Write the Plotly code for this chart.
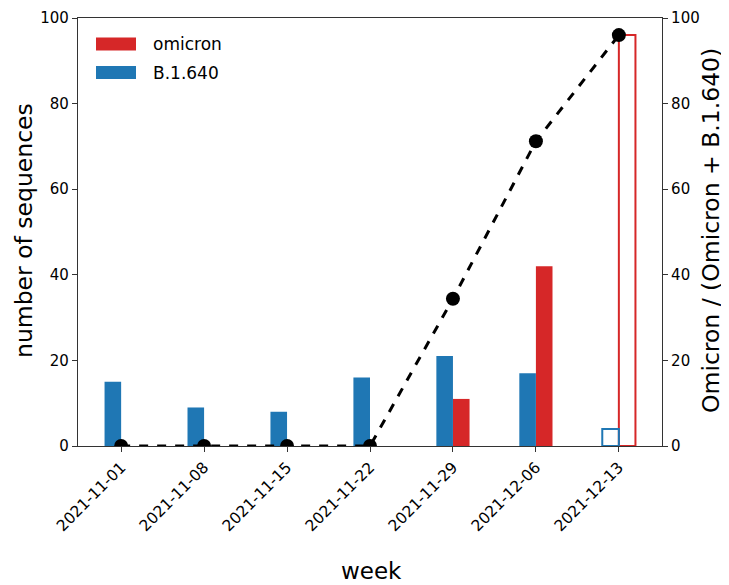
import plotly.graph_objects as go

weeks = ["2021-11-01", "2021-11-08", "2021-11-15", "2021-11-22",
         "2021-11-29", "2021-12-06", "2021-12-13"]
b1640 = [15, 9, 8, 16, 21, 17, 4]
omicron = [0, 0, 0, 0, 11, 42, 96]
fraction_pct = [0, 0, 0, 0, 34.4, 71.2, 96.0]
legend_labels = ["omicron", "B.1.640"]

BLUE = "#1f77b4"
RED = "#d62728"
xs = list(range(len(weeks)))
n = len(weeks)

def fills(color):
    return [color] * (n - 1) + ["rgba(0,0,0,0)"]

def widths():
    return [0] * (n - 1) + [2]

fig = go.Figure()
fig.add_trace(go.Bar(
    x=xs, y=omicron, name="omicron", offset=0, width=0.2,
    marker=dict(color=fills(RED), line=dict(color=RED, width=widths())),
))
fig.add_trace(go.Bar(
    x=xs, y=b1640, name="B.1.640", offset=-0.2, width=0.2,
    marker=dict(color=fills(BLUE), line=dict(color=BLUE, width=widths())),
))
fig.add_trace(go.Scatter(
    x=xs, y=fraction_pct, yaxis="y2", mode="lines+markers",
    line=dict(color="black", width=3, dash="dash"),
    marker=dict(color="black", size=14),
))

font = "DejaVu Sans"
OFF = 8  # page body margin
W, H = 729 - OFF, 585 - OFF
L, T = 78 - OFF, 18 - OFF
pw, ph = 584, 428
R, B = W - L - pw, H - T - ph

def px(x):
    return (x - OFF - L) / pw

def py(y):
    return (T + ph - (y - OFF)) / ph

fig.update_layout(
    width=W, height=H,
    margin=dict(l=L, r=R, t=T, b=B),
    paper_bgcolor="white", plot_bgcolor="white",
    barmode="overlay",
    font=dict(family=font, size=14, color="black"),
    showlegend=False,
    xaxis=dict(
        range=[-0.52, 6.52], tickmode="array", tickvals=xs, ticktext=weeks,
        tickangle=-45, ticks="outside", ticklen=5, tickcolor="#333",
        showline=True, linecolor="#333", linewidth=1.2,
        mirror=True, showgrid=False, zeroline=False, tickfont=dict(size=15.5),
        automargin=False,
    ),
    yaxis=dict(
        range=[0, 100], tickvals=[0, 20, 40, 60, 80, 100], ticks="outside", ticklen=5,
        tickcolor="#333", showline=True, linecolor="#333", linewidth=1.2,
        showgrid=False, zeroline=False, tickfont=dict(size=15), automargin=False,
    ),
    yaxis2=dict(
        range=[0, 100], tickvals=[0, 20, 40, 60, 80, 100], ticks="outside", ticklen=5,
        tickcolor="#333", overlaying="y", side="right", showline=True,
        linecolor="#333", linewidth=1.2, showgrid=False, zeroline=False,
        tickfont=dict(size=15), automargin=False,
    ),
)

# axis titles
fig.add_annotation(text="number of sequences", xref="paper", yref="paper",
                   x=px(24), y=py(231), textangle=-90, showarrow=False,
                   font=dict(size=23.5), xanchor="center", yanchor="middle")
fig.add_annotation(text="Omicron / (Omicron + B.1.640)", xref="paper", yref="paper",
                   x=px(711), y=py(231), textangle=-90, showarrow=False,
                   font=dict(size=23.5), xanchor="center", yanchor="middle")
fig.add_annotation(text="week", xref="paper", yref="paper",
                   x=px(371), y=py(571), showarrow=False,
                   font=dict(size=23), xanchor="center", yanchor="middle")

# legend (matplotlib style wide swatches)
for i, (lab, col) in enumerate(zip(legend_labels, [RED, BLUE])):
    top = 37.5 + i * 28.5
    fig.add_shape(type="rect", xref="paper", yref="paper",
                  x0=px(96), x1=px(136), y0=py(top + 13), y1=py(top),
                  fillcolor=col, line=dict(width=0))
    fig.add_annotation(text=lab, xref="paper", yref="paper",
                       x=px(151), y=py(top + 6.5), showarrow=False,
                       font=dict(size=17), xanchor="left", yanchor="middle")

fig.write_html("out.html")
